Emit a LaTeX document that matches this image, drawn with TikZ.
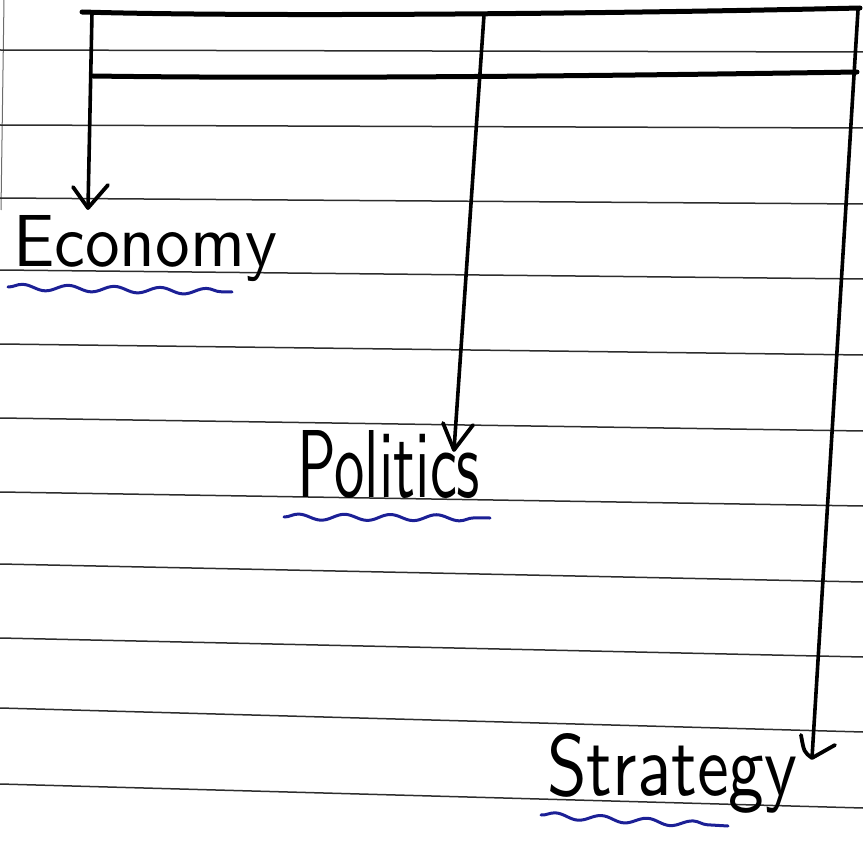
\documentclass[tikz,border=0pt]{standalone}
\usetikzlibrary{decorations.pathmorphing}
\definecolor{inkblue}{RGB}{28,32,150}
\definecolor{rulegray}{RGB}{45,45,45}
\begin{document}
\begin{tikzpicture}[x=1pt,y=-1pt,
  ruled/.style={draw=rulegray, line width=1.5pt},
  thickbar/.style={draw=black, line width=5pt, line cap=round},
  shaft/.style={draw=black, line width=3.6pt},
  head/.style={draw=black, line width=3.8pt, line join=round, line cap=round},
  wave/.style={draw=inkblue, line width=3pt, line cap=round, decorate, decoration={snake, amplitude=3pt, segment length=46pt}},
  word/.style={inner sep=0pt, anchor=base west, font=\sffamily}]
\useasboundingbox (0,0) rectangle (863,848);
% notebook rules
\draw[draw=rulegray!70, line width=1pt] (4,0) -- (1,210);
\foreach \yl/\yr in {50/52,125/128,198/204,270/279,344/355,418/431,492/506,564/582,638/657,708/732,784/808}
  \draw[ruled] (0,\yl) -- (863,\yr);
% top bars
\coordinate (barL) at (92,13);
\coordinate (barM) at (484,15);
\coordinate (barR) at (858,10);
\draw[thickbar] (82,12) .. controls (250,17) and (600,14) .. (860,8);
\draw[thickbar] (93,76) .. controls (300,79) and (600,76) .. (857,72);
% words
\node[word] (econ) at (13,266) {\resizebox{264pt}{51pt}{Economy}};
\node[word] (pol) at (297,497) {\resizebox{183pt}{67pt}{Politics}};
\node[word] (strat) at (547,795) {\resizebox{250pt}{62pt}{Strategy}};
% arrows
\coordinate (tipE) at (88,208);
\coordinate (tipP) at (454,450);
\coordinate (tipS) at (812,758);
\draw[shaft] (barL) -- (tipE);
\draw[head] (73,187) -- (tipE) -- (108,185);
\draw[shaft] (barM) -- (tipP);
\draw[head] (443,423) -- (tipP) -- (473,425);
\draw[shaft] (barR) -- (tipS);
\draw[head] (801,735) .. controls (804,752) .. (tipS) -- (835,745);
% blue underlines
\coordinate (uE1) at (8,287); \coordinate (uE2) at (232,292);
\coordinate (uP1) at (284,517); \coordinate (uP2) at (490,518);
\coordinate (uS1) at (541,815); \coordinate (uS2) at (728,826);
\draw[wave] (uE1) -- (uE2);
\draw[wave] (uP1) -- (uP2);
\draw[wave] (uS1) -- (uS2);
\end{tikzpicture}
\end{document}
